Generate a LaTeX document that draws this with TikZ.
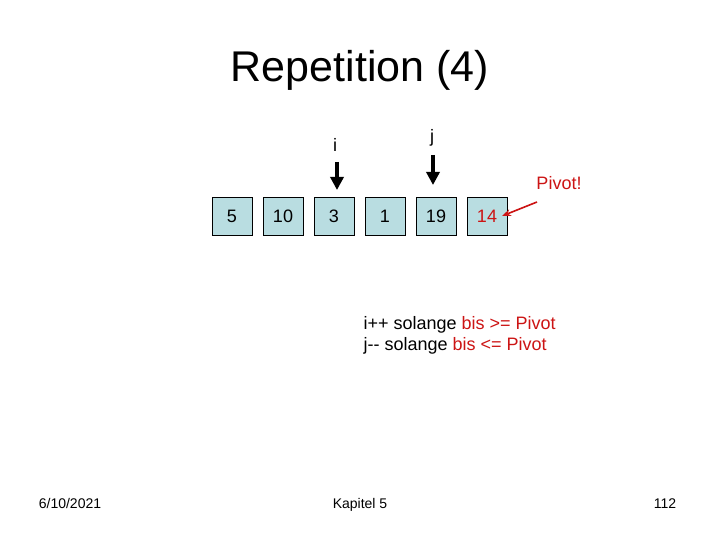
\documentclass[tikz,border=0pt]{standalone}
\usepackage{fontspec}
\setmainfont{Liberation Sans}
\usetikzlibrary{positioning,arrows.meta}
\definecolor{cellbg}{HTML}{B9DDE1}
\definecolor{hot}{HTML}{CC1414}
\tikzset{
  cell/.style={draw, fill=cellbg, minimum width=40pt, minimum height=38pt, inner sep=0pt, font=\fontsize{18}{20}\selectfont},
  ptr/.style={line width=4pt, -{Triangle[width=13pt,length=13pt]}},
  hint/.style={hot, line width=1.6pt, -{Stealth[length=9pt,width=7pt]}},
  lbl/.style={font=\fontsize{18}{20}\selectfont},
  foot/.style={font=\fontsize{14}{16}\selectfont, anchor=base}}
\begin{document}
\begin{tikzpicture}[x=1pt, y=-1pt, node distance=10.6pt]
\useasboundingbox (0,0) rectangle (720,540);
\node[font=\fontsize{43}{48}\selectfont] (title) at (360,70) {Repetition (4)};
% the array
\node[cell] (c1) at (232,216) {5};
\node[cell, right=of c1] (c2) {10};
\node[cell, right=of c2] (c3) {3};
\node[cell, right=of c3] (c4) {1};
\node[cell, right=of c4] (c5) {19};
\node[cell, right=of c5, text=hot] (c6) {14};
% pointers
\node[lbl] (li) at (335,145) {i};
\node[lbl] (lj) at (432,138) {j};
\coordinate (itop) at (337,162);
\coordinate (itip) at (337,190);
\coordinate (jtop) at (433,155);
\coordinate (jtip) at (433,185);
\draw[ptr] (itop) -- (itip);
\draw[ptr] (jtop) -- (jtip);
\node[lbl, text=hot] (pv) at (559,183) {Pivot!};
\coordinate (pvtail) at (537,202);
\draw[hint] (pvtail) -- (c6.center -| 502,0);
% rules
\node[lbl, anchor=west] (r1) at (360,325) {i++ solange \textcolor{hot}{bis >= Pivot}};
\node[lbl, anchor=west] (r2) at (360,346) {j-{}- solange \textcolor{hot}{bis <= Pivot}};
% footer
\node[foot] (date) at (70,508) {6/10/2021};
\node[foot] (chap) at (360,508) {Kapitel 5};
\node[foot] (page) at (665,508) {112};
\end{tikzpicture}
\end{document}
